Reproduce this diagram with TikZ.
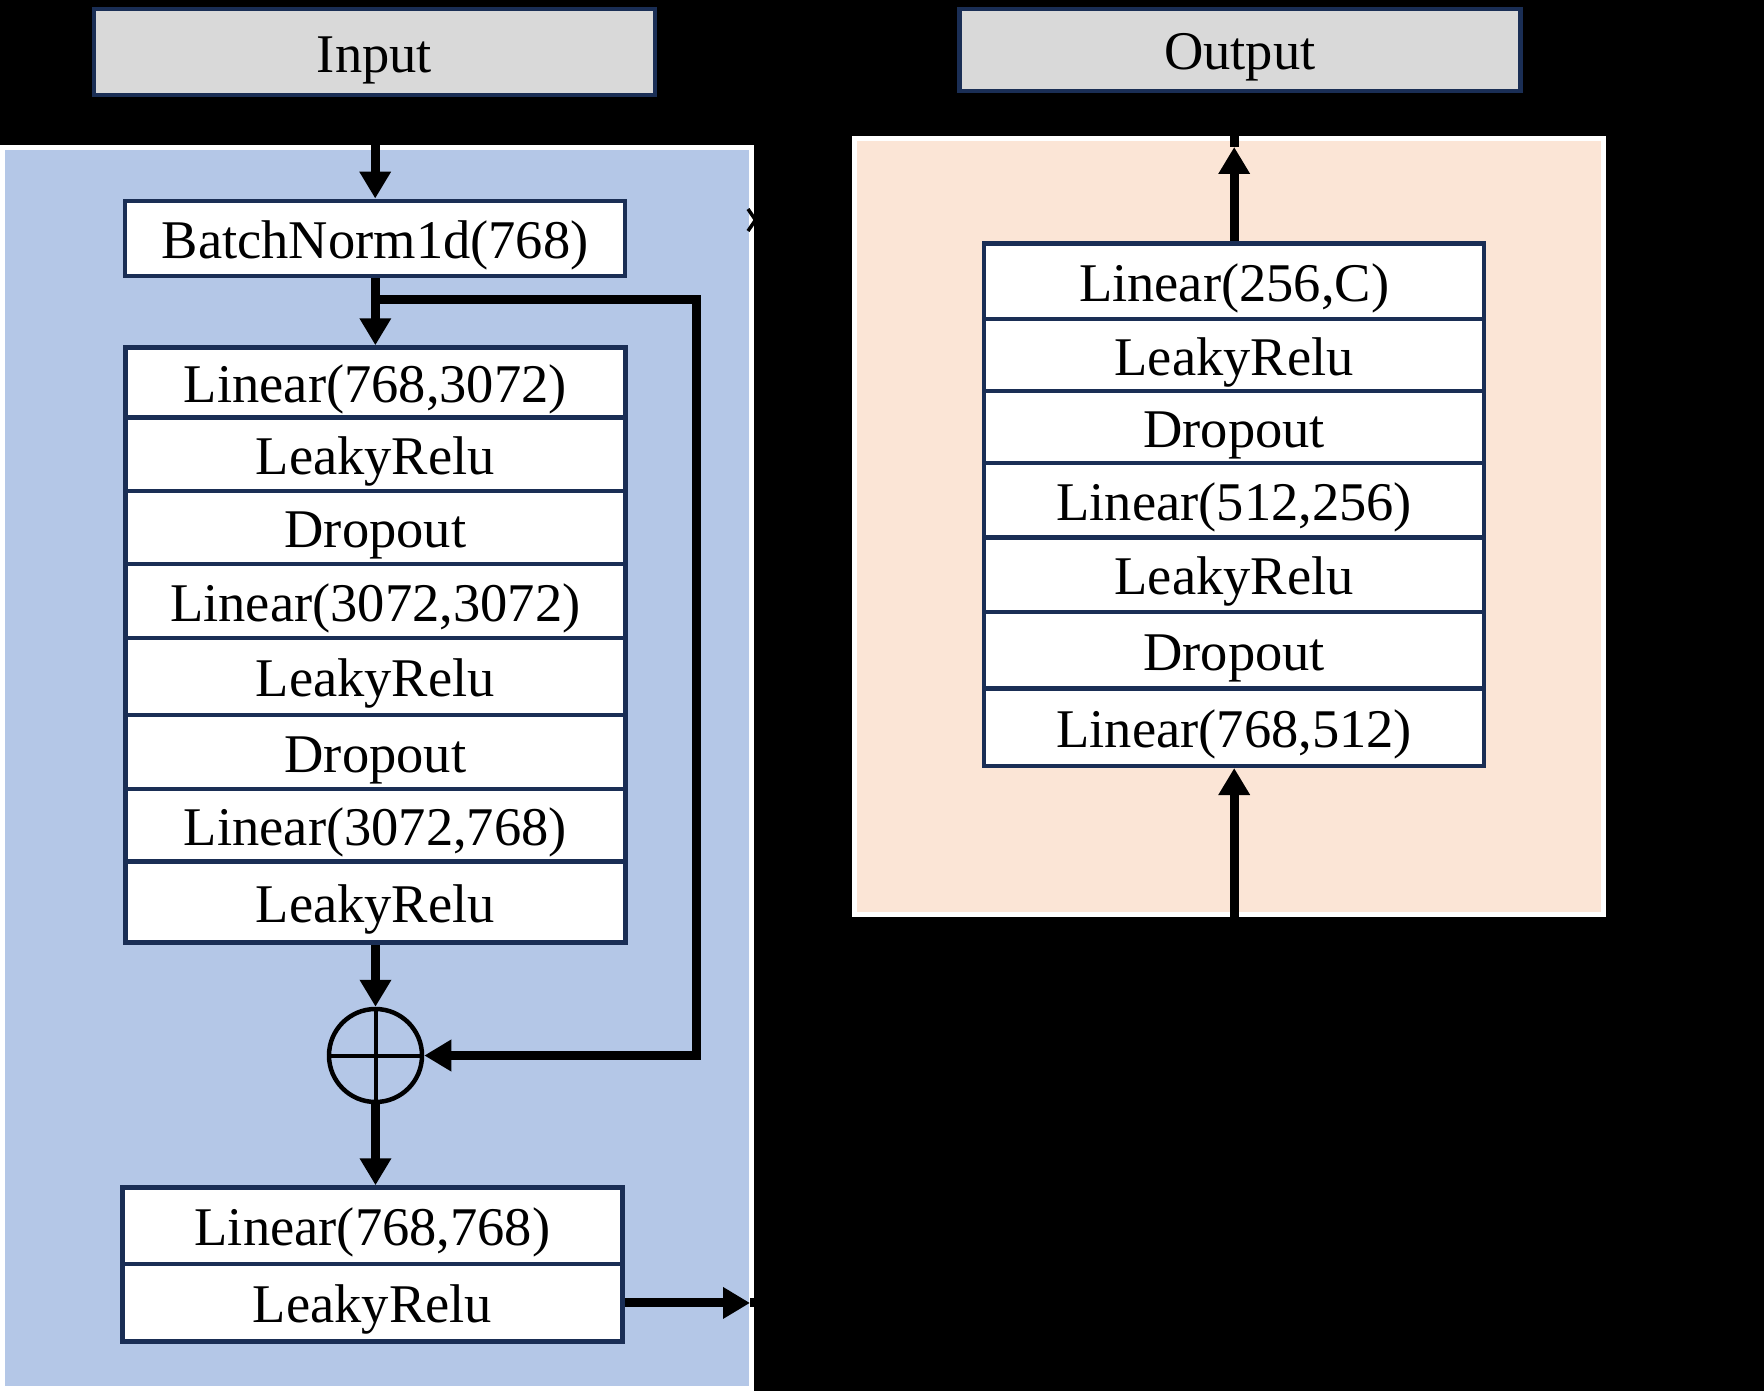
\documentclass[tikz,border=0pt]{standalone}
\usepackage{fontspec}
\setmainfont{Liberation Serif}
\usetikzlibrary{arrows.meta}
\definecolor{navy}{HTML}{1A2E55}
\definecolor{panelblue}{HTML}{B4C7E7}
\definecolor{panelpeach}{HTML}{FBE5D6}
\definecolor{boxgray}{HTML}{D9D9D9}
\begin{document}
\begin{tikzpicture}[x=1pt,y=-1pt,
  txt/.style={font=\fontsize{54.5}{60}\selectfont, text height=40pt, text depth=0pt},
  layer/.style={txt, draw=navy, line width=4.5pt, fill=white, inner sep=0pt,
    minimum width=500pt, minimum height=74pt},
  iobox/.style={layer, fill=boxgray, minimum width=561pt, minimum height=86pt},
  panel/.style={draw=white, line width=5pt},
  arr/.style={black, line width=9pt, -{Triangle[width=30pt,length=27pt]}},
  sumnode/.style={circle, draw=black, line width=4.5pt, minimum size=93pt, inner sep=0pt}]
\fill[black] (0,0) rectangle (1764,1391);
\useasboundingbox (0,0) rectangle (1764,1391);
% panels
\draw[panel, fill=panelblue] (2.5,147.5) rectangle (751.5,1388.5);
\draw[panel, fill=panelpeach] (854.5,138.5) rectangle (1603.5,914);
% input / output
\node[iobox] (inp) at (374.5,52.2) {Input};
\node[iobox, minimum height=82pt] (out) at (1239.75,50) {Output};
% left column
\node[layer, minimum height=75pt] (bn) at (375.2,238.3) {BatchNorm1d(768)};
\node[layer, minimum height=70pt]   (l1) at (375.35,382.5)  {Linear(768,3072)};
\node[layer, minimum height=73.3pt] (l2) at (375.35,454.15) {LeakyRelu};
\node[layer, minimum height=73.2pt] (l3) at (375.35,527.4)  {Dropout};
\node[layer, minimum height=74pt]   (l4) at (375.35,601)    {Linear(3072,3072)};
\node[layer, minimum height=77pt]   (l5) at (375.35,676.5)  {LeakyRelu};
\node[layer, minimum height=74pt]   (l6) at (375.35,752)    {Dropout};
\node[layer, minimum height=72.7pt] (l7) at (375.35,825.35) {Linear(3072,768)};
\node[layer, minimum height=80.8pt] (l8) at (375.35,902.1)  {LeakyRelu};
\node[sumnode] (sum) at (375.5,1055.5) {};
\draw[black, line width=4pt] (sum.north) -- (sum.south) (sum.west) -- (sum.east);
\node[layer, minimum height=76.7pt] (b1) at (372.5,1225.85) {Linear(768,768)};
\node[layer, minimum height=77.5pt] (b2) at (372.5,1302.95) {LeakyRelu};
% right column
\node[layer, minimum height=75.7pt] (r1) at (1234.2,281.35) {Linear(256,C)};
\node[layer, minimum height=71.6pt] (r2) at (1234.2,355)    {LeakyRelu};
\node[layer, minimum height=72.4pt] (r3) at (1234.2,427)    {Dropout};
\node[layer, minimum height=74.3pt] (r4) at (1234.2,500.35) {Linear(512,256)};
\node[layer, minimum height=74.3pt] (r5) at (1234.2,574.65) {LeakyRelu};
\node[layer, minimum height=76.7pt] (r6) at (1234.2,650.15) {Dropout};
\node[layer, minimum height=77.3pt] (r7) at (1234.2,727.15) {Linear(768,512)};
% helper coordinates
\coordinate (br) at (375.35,299);
\coordinate (fb) at (696,299);
\coordinate (exitL) at (750,1302.95);
\coordinate (otip) at (1234.2,147);
% connectors
\draw[arr] (inp.south -| bn.north) -- (bn.north);
\draw[arr] (bn.south -| l1.north) -- (l1.north);
\draw[arr, line join=miter] (br) -- (fb) |- (sum.east);
\draw[arr] (l8.south -| sum.north) -- (sum.north);
\draw[arr] (sum.south) -- (sum.south |- b1.north);
\draw[arr] (b2.east) -- (exitL);
\draw[arr, line join=miter] (exitL) -| (r7.south);
\draw[arr] (r1.north) -- (otip);
\draw[arr] (otip) -- (otip |- out.south);
% partial mark at the left panel edge
\draw[black, line width=3.5pt] (748,209) -- (755.5,220) -- (748,231);
\end{tikzpicture}
\end{document}
